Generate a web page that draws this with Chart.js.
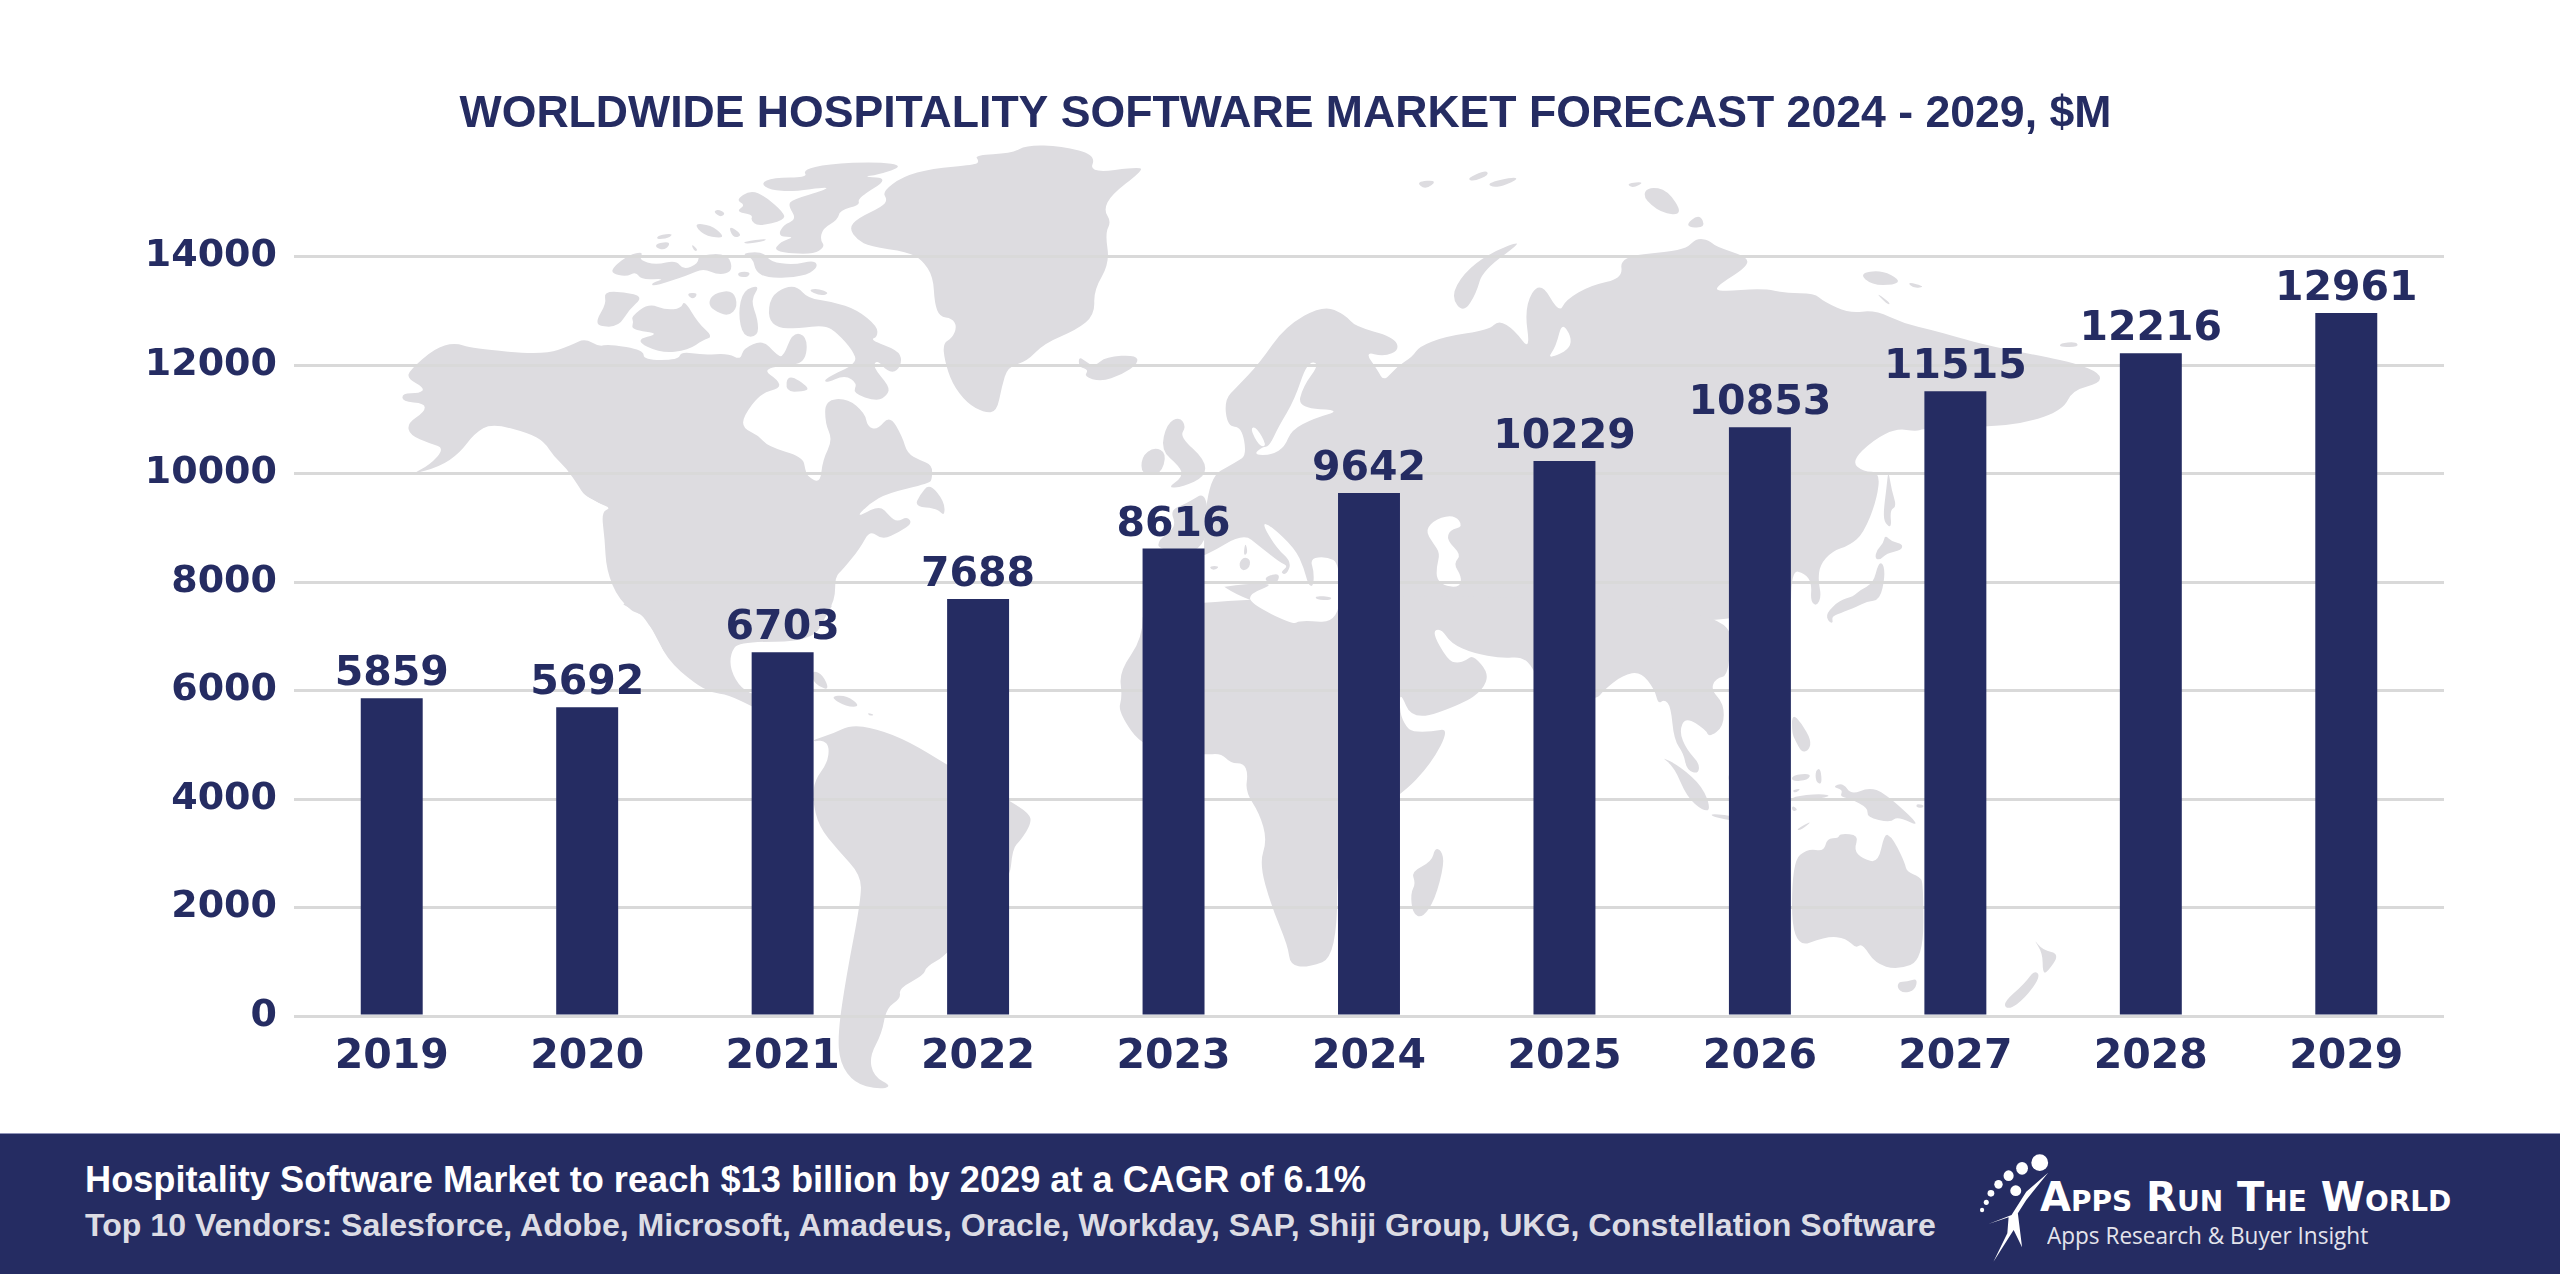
<!DOCTYPE html>
<html>
<head>
<meta charset="utf-8">
<title>Worldwide Hospitality Software Market Forecast</title>
<script src="https://cdn.jsdelivr.net/npm/chart.js@4"></script>
<style>
html, body { margin: 0; padding: 0; background: #fff; }
#page { position: relative; width: 2560px; height: 1274px; overflow: hidden; background: #fff; }
#map, #graph { position: absolute; left: 0; top: 0; }
#band { position: absolute; left: 0; top: 1133px; width: 2560px; height: 141px; background: #252c62; border-top: 1px solid #8f93b8; box-sizing: border-box; }
.line { position: absolute; white-space: nowrap; font-family: "Liberation Sans", sans-serif; font-weight: 700; transform-origin: left top; }
#headline { left: 85px; top: 1159px; font-size: 36.2px; color: #fff; }
#vendors { left: 85px; top: 1207px; font-size: 32.1px; color: #dcdce4; }
#brand { left: 2040px; top: 1174px; font-family: "DejaVu Sans", sans-serif; font-size: 40px; font-variant: small-caps; color: #fff; }
#tagline { left: 2047px; top: 1218px; font-family: "Open Sans", sans-serif; font-weight: 400; font-size: 24px; color: #e4e4ec; transform: scaleX(0.94); }
</style>
</head>
<body>
<div id="page">
  <svg id="map" width="2560" height="1274" viewBox="0 0 2560 1274"></svg>
  <canvas id="graph" width="2560" height="1274"></canvas>
  <div id="band"></div>
  <div class="line" id="headline">Hospitality Software Market to reach $13 billion by 2029 at a CAGR of 6.1%</div>
  <div class="line" id="vendors">Top 10 Vendors: Salesforce, Adobe, Microsoft, Amadeus, Oracle, Workday, SAP, Shiji Group, UKG, Constellation Software</div>
  <svg id="logo" style="position:absolute;left:0;top:0" width="2560" height="1274" viewBox="0 0 2560 1274">
    <g transform="translate(1900,1120) scale(0.4209,0.3333)" fill="#fff">
      <ellipse cx="332" cy="128" rx="20" ry="25"/>
      <ellipse cx="290" cy="145" rx="14" ry="19"/>
      <ellipse cx="258" cy="167" rx="12" ry="16"/>
      <ellipse cx="234" cy="193" rx="10" ry="13"/>
      <ellipse cx="216" cy="220" rx="8" ry="10"/>
      <ellipse cx="205" cy="247" rx="6" ry="8"/>
      <ellipse cx="195" cy="270" rx="5" ry="7"/>
      <ellipse cx="275" cy="212" rx="13" ry="16"/>
      <polygon points="352,158 300,215 265,285 210,312 258,292 255,340 222,425 270,330 290,382 280,280 300,240"/>
    </g>
  </svg>
  <div class="line" id="brand">Apps Run The World</div>
  <div class="line" id="tagline">Apps Research &amp; Buyer Insight</div>
</div>
<script>
const years = ['2019', '2020', '2021', '2022', '2023', '2024', '2025', '2026', '2027', '2028', '2029'];
const marketSize = [5859, 5692, 6703, 7688, 8616, 9642, 10229, 10853, 11515, 12216, 12961];
const yMax = 14000;
const yStep = 2000;
const chartTitle = 'WORLDWIDE HOSPITALITY SOFTWARE MARKET FORECAST 2024 - 2029, $M';

const navy = '#252c62';

// backdrop map, traced by hand; each block has its own offset and scale
const blocks = {
    north: 'translate(380,140) scale(0.4974,0.3333)',
    east: 'translate(1100,160) scale(0.6378,0.3333)',
    americas: 'translate(560,600) scale(0.4209,0.3333)',
    south: 'translate(1100,600) scale(0.6378,0.3333)',
    med: 'translate(1100,440) scale(0.3333)',
    asia: 'translate(1590,400) scale(0.3333)',
};

const land = [
    ['north', '1195,45 1270,40 1300,15 1370,18 1440,45 1425,100 1530,80 1530,95 1470,165 1455,210 1470,245 1458,280 1467,370 1435,450 1437,525 1400,570 1335,610 1300,665 1262,680 1250,740 1240,815 1215,818 1180,790 1150,730 1135,660 1132,610 1150,595 1160,560 1150,535 1125,530 1115,490 1112,410 1090,360 1060,335 985,320 960,300 943,265 960,235 1010,200 1020,180 1010,155 1050,110 1110,85 1195,75 1205,65'],
    ['north', '1405,650 1420,665 1435,680 1460,650 1520,645 1525,670 1490,705 1450,725 1415,710 1425,690 1405,680'],
    ['north', '850,90 900,72 1000,65 1055,78 1000,105 970,110 1025,115 960,175 965,195 925,210 920,240 890,265 885,300 895,320 870,345 790,335 805,305 835,290 800,290 810,255 838,238 820,195 830,178 895,150 900,140 830,155 785,150 765,130 790,113 860,112'],
    ['north', '745,150 775,170 810,215 815,240 760,260 745,240 750,225 715,215 735,195 715,180'],
    ['north', '680,208 695,220 685,232 670,215'],
    ['north', '630,250 665,255 690,285 685,295 650,285'],
    ['north', '700,255 730,285 710,295'],
    ['north', '730,305 780,295 770,305 735,312'],
    ['north', '560,285 590,280 580,295 555,298'],
    ['north', '555,310 585,305 575,330 555,325'],
    ['north', '625,310 640,330 632,335'],
    ['north', '500,345 530,335 520,360 555,375 595,360 610,390 640,370 640,345 700,340 710,395 680,405 650,385 620,405 550,440 545,430 575,415 525,420 515,395 495,410 465,400 470,380'],
    ['north', '725,340 770,335 785,365 830,375 875,360 880,385 850,410 780,415 755,395 750,355'],
    ['north', '720,395 745,395 740,412 720,410'],
    ['north', '450,455 490,455 530,470 500,510 480,560 440,560 435,540 455,490'],
    ['north', '505,530 540,490 575,510 605,505 612,480 640,550 670,590 650,600 620,630 565,640 510,600 565,580 505,570 510,545'],
    ['north', '670,460 710,450 720,500 700,530 670,510 660,490'],
    ['north', '615,460 640,458 630,480'],
    ['north', '730,450 765,435 745,480 760,540 760,590 730,590 720,520'],
    ['north', '785,470 815,440 840,440 860,475 910,485 960,510 1000,560 1000,590 985,600 1040,630 1050,660 1040,695 1020,695 1000,660 990,680 1025,740 1020,765 1000,785 950,760 960,730 935,705 895,730 895,715 960,670 950,630 920,580 895,555 840,565 800,565 780,535'],
    ['north', '820,700 865,745 850,755 815,755'],
    ['north', '880,445 905,460 885,468 860,450'],
    // mainland North America
    ['north', '60,690 110,625 150,608 185,625 330,645 385,615 412,595 440,620 460,612 530,630 530,660 600,660 605,635 650,645 700,640 725,660 730,625 770,600 795,640 810,655 830,575 860,590 855,670 810,675 770,690 800,720 805,745 765,760 730,830 730,865 760,885 780,920 850,950 855,990 860,1010 885,1030 890,960 910,900 895,850 895,780 940,775 975,820 980,860 1000,870 1025,825 1050,890 1060,940 1085,960 1110,975 1110,1015 1105,1030 1020,1060 985,1090 955,1135 1005,1095 1025,1130 1040,1145 1060,1130 1070,1150 1045,1175 1010,1200 985,1170 965,1225 930,1290 915,1310 915,1380 890,1440 530,1440 480,1380 455,1290 452,1200 445,1115 465,1105 440,1090 410,1065 400,1040 375,985 350,950 330,905 300,880 225,850 190,880 160,940 120,980 60,1005 100,975 130,925 100,910 60,885 55,850 90,815 90,790 45,785 45,760 80,760 90,745 55,715'],
    ['north', '1105,1030 1135,1085 1135,1130 1120,1105 1075,1100 1085,1065'],
    // Mexico and Central America
    ['americas', '130,0 175,30 205,55 255,180 320,250 360,278 400,285 455,318 600,410 600,300 470,290 430,265 405,210 405,160 425,125 600,125 635,40 655,0'],
    ['americas', '600,210 625,225 640,270 615,260 600,240'],
    ['americas', '640,290 680,285 715,320 680,320'],
    ['americas', '730,338 748,345 735,348'],
    // South America
    ['americas', '650,400 690,375 750,385 830,425 920,495 1065,600 1115,640 1120,670 1095,720 1075,745 1068,850 920,1065 870,1100 865,1125 805,1165 810,1195 775,1225 765,1300 735,1370 745,1430 790,1460 755,1468 700,1450 665,1390 660,1300 680,1130 715,900 715,825 660,750 615,680 600,600 605,540 635,490 640,440 625,420 605,425 600,420'],
    // Europe and northern Asia
    ['east', '163,960 215,905 230,885 222,800 200,800 195,720 215,680 250,610 290,500 350,435 385,465 400,500 460,530 470,570 445,590 415,575 435,630 445,665 465,620 490,590 500,560 540,530 610,510 625,480 650,510 675,575 665,440 690,360 720,460 730,420 770,375 820,355 815,290 890,275 920,265 935,235 955,240 965,260 1015,290 1015,320 965,380 970,395 1040,385 1075,400 1120,400 1135,425 1175,460 1215,450 1260,490 1305,510 1340,530 1400,560 1480,590 1530,610 1568,640 1568,670 1525,690 1510,750 1450,790 1390,800 1292,805 1280,815 1249,805 1212,840 1178,905 1197,935 1223,935 1218,1020 1197,1120 1176,1155 1147,1175 1129,1215 1126,1260 1131,1310 1124,1338 1114,1325 1116,1270 1105,1240 1084,1230 1083,1400 163,1400'],
    ['asia', '895,210 905,270 920,320 900,330 905,385 885,370 880,340 890,260'],
    ['asia', '885,405 905,425 938,432 935,450 890,460 870,480 855,475 860,450 880,430'],
    ['asia', '865,490 880,490 885,530 870,600 830,605 800,620 750,640 725,650 730,670 715,665 708,640 750,600 790,590 810,570 850,550'],
    ['east', '1190,340 1225,330 1255,360 1245,375 1210,375'],
    ['east', '1265,365 1295,380 1275,385'],
    ['east', '1215,395 1240,430 1235,435'],
    ['east', '1505,550 1530,545 1535,560 1505,562'],
    ['east', '495,65 530,60 510,90'],
    ['east', '575,55 605,30 610,45 585,65'],
    ['east', '605,70 650,50 655,60 620,85'],
    ['east', '670,235 610,280 570,340 550,410 570,460 590,400 600,330'],
    ['east', '825,70 855,65 835,85'],
    ['east', '860,80 890,90 915,165 880,160 850,110'],
    ['east', '940,160 950,205 915,200'],
    ['east', '105,790 125,770 135,800 125,830 165,900 165,950 130,980 105,985 130,950 125,920 95,870'],
    ['east', '85,860 105,880 95,945 65,945 65,890'],
    ['med', '325,150 260,190 210,210 230,260 175,300 175,330 320,340'],
    // Africa, Arabia, India, Indochina
    ['south', '67,-10 67,115 30,215 35,290 28,335 70,450 163,465 190,460 205,490 225,490 232,520 228,575 250,640 262,720 250,790 268,915 295,1040 298,1095 325,1103 372,1070 372,700 470,590 520,490 548,385 520,395 490,395 480,380 470,340 470,270 490,365 570,310 600,270 610,220 585,165 575,180 560,190 545,180 520,95 535,85 550,130 585,160 630,175 662,170 680,205 700,300 778,300 790,270 820,225 848,215 870,270 875,312 885,298 895,320 900,420 915,460 920,510 938,522 940,490 920,450 908,395 918,350 950,390 955,412 978,380 978,310 958,270 965,235 988,225 988,-10'],
    ['south', '878,468 910,500 945,560 958,630 945,632 920,590 900,500'],
    ['south', '983,520 1000,520 1000,570 990,570'],
    ['south', '958,640 1000,650 1000,665 960,650'],
    ['south', '1085,340 1100,370 1115,420 1112,450 1100,458 1090,420 1085,400'],
    ['south', '1120,-5 1130,-5 1120,20'],
    ['south', '1085,525 1115,520 1110,540 1085,545'],
    ['south', '1085,570 1100,565 1090,580'],
    ['south', '1085,590 1130,580 1150,590 1085,605'],
    ['south', '1122,510 1130,505 1132,555 1122,545'],
    ['south', '1090,690 1118,660 1100,690'],
    ['south', '1165,548 1178,585 1205,562 1230,578 1291,685 1250,648 1240,668 1202,652 1205,625 1175,595 1160,590 1165,570 1148,560'],
    ['south', '1085,615 1095,630 1085,635'],
    ['south', '1085,785 1110,745 1135,755 1140,715 1158,715 1160,700 1190,705 1182,750 1195,775 1220,790 1230,700 1240,710 1250,740 1262,790 1265,815 1285,830 1291,850 1291,1080 1250,1110 1215,1090 1195,1030 1185,1045 1170,1015 1140,1008 1085,1048'],
    ['south', '1252,1145 1265,1145 1282,1135 1278,1170 1260,1180 1250,1165'],
    ['south', '1463,1015 1478,1050 1505,1062 1485,1118 1478,1118 1478,1060'],
    ['south', '1465,1110 1475,1130 1450,1195 1425,1230 1415,1210 1450,1150'],
    ['south', '525,745 535,750 540,790 525,900 505,955 490,940 487,880 495,850 488,815 520,785'],
    ['south', '1280,612 1292,615 1290,624 1280,622'],
];

// inland seas and channels, painted over the land
const water = [
    ['americas', '205,55 245,150 255,180 205,115'],
    ['north', '365,995 380,1035 365,1020'],
    ['north', '405,1060 465,1110 430,1095'],
    ['east', '325,605 345,610 318,680 310,745 380,750 335,775 300,810 290,860 270,885 240,885 255,860 265,860 280,800 305,720'],
    ['east', '235,805 250,860 262,858 245,800'],
    ['east', '725,480 745,560 700,600 715,560'],
    ['med', '300,345 320,345 430,280 478,318 540,368 565,378 540,398 560,405 575,365 530,325 485,250 510,255 585,325 612,385 625,435 640,440 642,395 630,355 680,350 720,370 720,550 600,540 580,555 450,490 450,460 525,432 450,430 300,450'],
    ['med', '975,270 1010,235 1065,225 1090,260 1050,270 1040,300 1085,345 1060,370 1085,410 1080,440 1040,440 1010,420 1010,380 1020,340 1000,310'],
];

// islands sitting in the seas above
const seaIslands = [
    ['med', '436,305 444,340 430,347'],
    ['med', '432,350 452,360 447,385 425,394 416,370'],
    ['med', '330,378 357,378 350,389 332,389'],
    ['med', '645,467 697,471 690,481 650,479'],
    ['med', '495,410 540,398 532,432 500,427'],
];

function roundedPath(text) {
    // midpoints joined by quadratic curves, so that the traced outline does not look faceted
    const p = text.split(' ').map(s => s.split(',').map(Number));
    const mid = (a, b) => [(a[0] + b[0]) / 2, (a[1] + b[1]) / 2];
    let m = mid(p[p.length - 1], p[0]);
    let d = 'M' + m[0] + ' ' + m[1];
    p.forEach((pt, i) => {
        m = mid(pt, p[(i + 1) % p.length]);
        d += 'Q' + pt[0] + ' ' + pt[1] + ' ' + m[0] + ' ' + m[1];
    });
    return d + 'Z';
}

const map = document.getElementById('map');
function paint(shapes, colour) {
    shapes.forEach(([block, pts]) => {
        const el = document.createElementNS('http://www.w3.org/2000/svg', 'path');
        el.setAttribute('d', roundedPath(pts));
        el.setAttribute('transform', blocks[block]);
        el.setAttribute('fill', colour);
        map.appendChild(el);
    });
}
paint(land, '#dddce0');
paint(water, '#ffffff');
paint(seaIslands, '#dddce0');

const barLabels = {
    id: 'barLabels',
    beforeDraw(chart) {
        // the title is centred on the page content, not on the shrunken layout box
        chart.titleBlock.left = 0;
        chart.titleBlock.right = 2571;
    },
    afterDatasetsDraw(chart) {
        const ctx = chart.ctx;
        ctx.save();
        ctx.font = 'bold 41px "DejaVu Sans"';
        ctx.fillStyle = navy;
        ctx.textAlign = 'center';
        ctx.textBaseline = 'alphabetic';
        chart.getDatasetMeta(0).data.forEach((bar, i) => {
            ctx.fillText(String(marketSize[i]), bar.x, bar.y - 13);
        });
        ctx.restore();
    },
};

new Chart(document.getElementById('graph'), {
    type: 'bar',
    data: {
        labels: years,
        datasets: [{
            data: marketSize,
            backgroundColor: navy,
            barPercentage: 0.317,
            categoryPercentage: 1,
        }],
    },
    options: {
        responsive: false,
        animation: false,
        devicePixelRatio: 1,
        layout: { padding: { left: 0, right: 116, top: 0, bottom: 198 } },
        scales: {
            x: {
                afterFit(scale) { scale.height = 60; },
                border: { display: false },
                grid: { display: false },
                ticks: {
                    color: navy,
                    padding: 9,
                    maxRotation: 0,
                    font: { family: '"DejaVu Sans"', size: 41, weight: 'bold' },
                },
            },
            y: {
                min: 0,
                max: yMax,
                afterFit(scale) { scale.width = 294; },
                border: { display: false },
                grid: { color: '#d9d9d9', lineWidth: 3, drawTicks: false },
                ticks: {
                    color: navy,
                    stepSize: yStep,
                    padding: 17,
                    font: { family: '"DejaVu Sans"', size: 38, weight: 'bold' },
                    callback: value => String(value),
                },
            },
        },
        plugins: {
            legend: { display: false },
            tooltip: { enabled: false },
            title: {
                display: true,
                text: chartTitle,
                color: navy,
                font: { family: '"Liberation Sans"', size: 44.6, weight: 'bold' },
                padding: { top: 88, bottom: 115 },
            },
        },
    },
    plugins: [barLabels],
});
</script>
</body>
</html>
